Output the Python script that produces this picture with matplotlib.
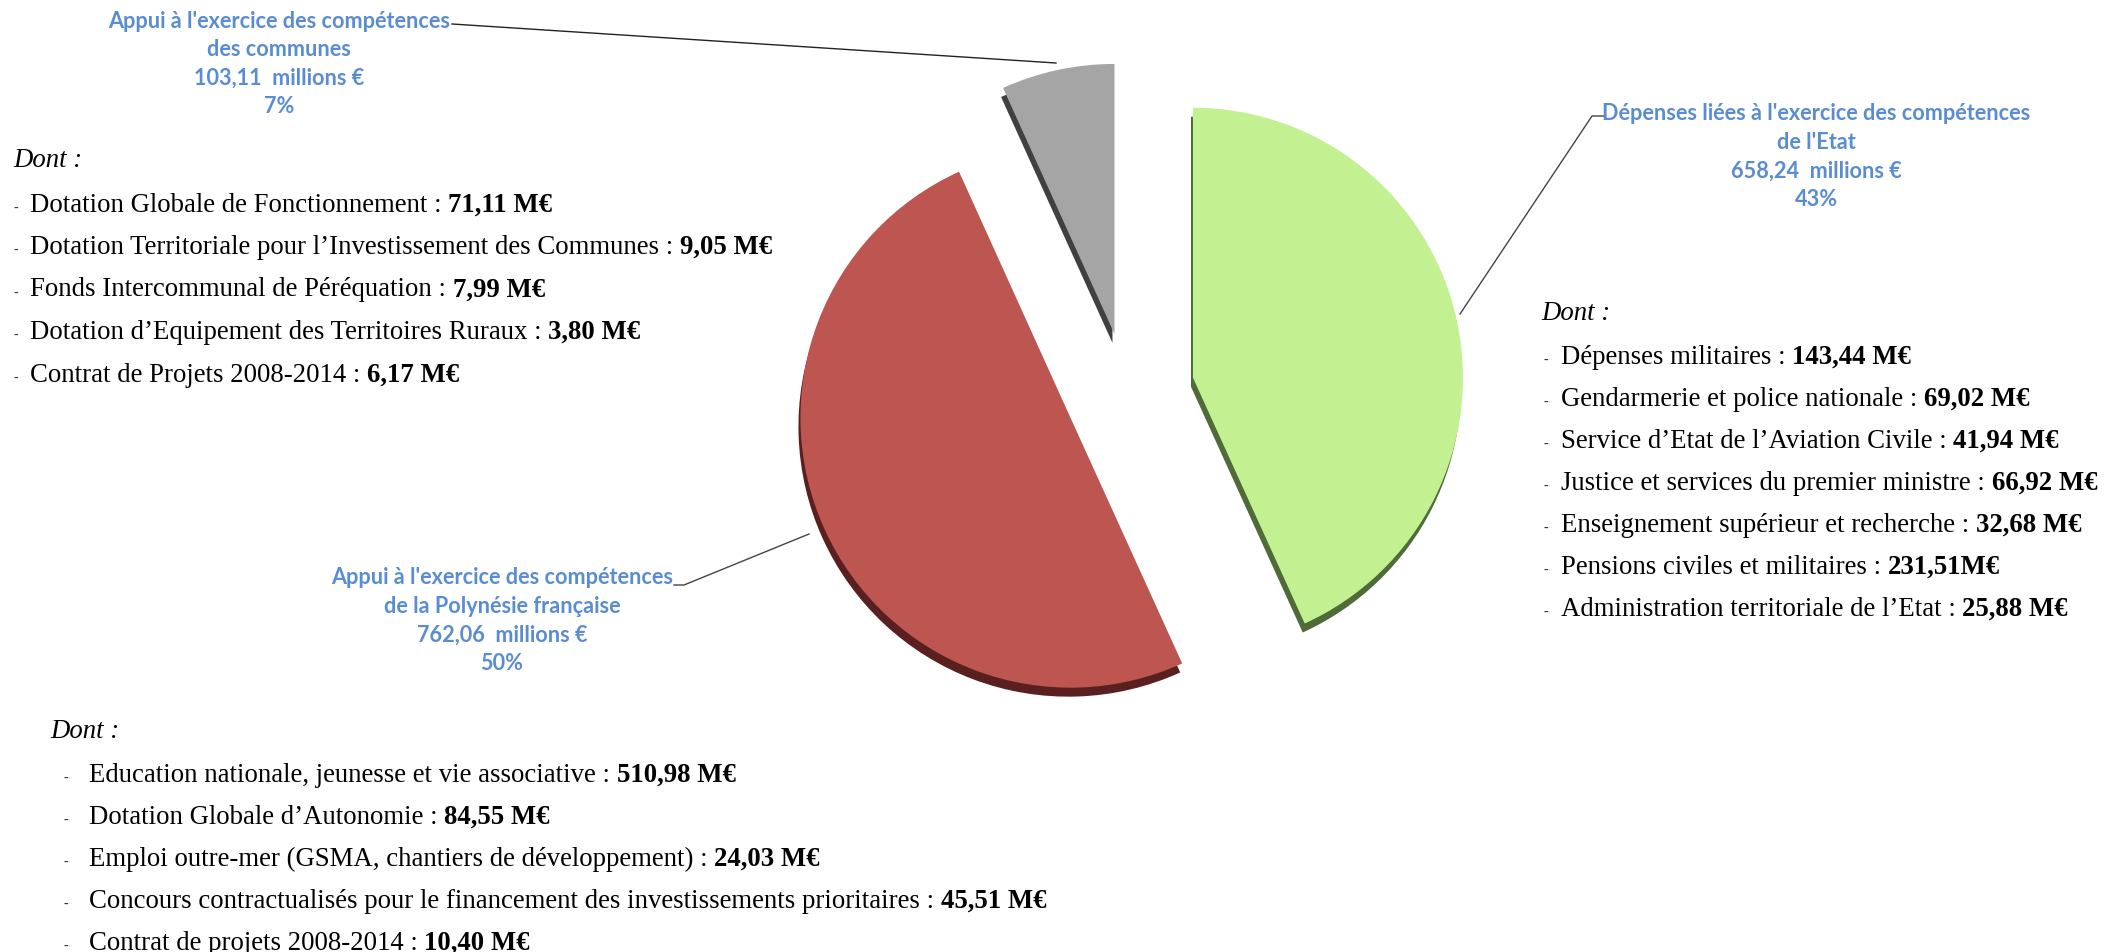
import numpy as np
import matplotlib.pyplot as plt

W, H = 2114, 952

# slices (same order as drawn, counter-clockwise from 12 o'clock)
parts = ["Appui à l'exercice des compétences\ndes communes",
         "Appui à l'exercice des compétences\nde la Polynésie française",
         "Dépenses liées à l'exercice des compétences\nde l'Etat"]
amounts = [103.11, 762.06, 658.24]
top_colors = ['#a5a5a5', '#bd5551', '#c3f192']
side_colors = ['#404040', '#5a1f1f', '#4f6b3a']
explode = [0.22, 0.23, 0.25]

communes_lib = ["Dotation Globale de Fonctionnement",
                "Dotation Territoriale pour l\u2019Investissement des Communes",
                "Fonds Intercommunal de Péréquation",
                "Dotation d\u2019Equipement des Territoires Ruraux",
                "Contrat de Projets 2008-2014"]
communes_val = ["71,11 M€", "9,05 M€", "7,99 M€", "3,80 M€", "6,17 M€"]

etat_lib = ["Dépenses militaires",
            "Gendarmerie et police nationale",
            "Service d\u2019Etat de l\u2019Aviation Civile",
            "Justice et services du premier ministre",
            "Enseignement supérieur et recherche",
            "Pensions civiles et militaires",
            "Administration territoriale de l\u2019Etat"]
etat_val = ["143,44 M€", "69,02 M€", "41,94 M€", "66,92 M€", "32,68 M€", "231,51M€", "25,88 M€"]

pf_lib = ["Education nationale, jeunesse et vie associative",
          "Dotation Globale d\u2019Autonomie",
          "Emploi outre-mer (GSMA, chantiers de développement)",
          "Concours contractualisés pour le financement des investissements prioritaires",
          "Contrat de projets 2008-2014"]
pf_val = ["510,98 M€", "84,55 M€", "24,03 M€", "45,51 M€", "10,40 M€"]

fig = plt.figure(figsize=(W / 100, H / 100), dpi=100)
ax = fig.add_axes([0, 0, 1, 1])

# y axis is inverted below, so the pie goes clockwise in data = counter-clockwise on screen
cx, cy, r = 1127, 392, 270
expl = [e * r for e in explode]  # pie() offsets in data units
# dark copy underneath gives the 3D thickness
ax.pie(amounts, explode=expl, colors=side_colors, startangle=-90, counterclock=False,
       center=(cx - 2, cy + 9), radius=r, wedgeprops=dict(linewidth=0))
ax.pie(amounts, explode=expl, colors=top_colors, startangle=-90, counterclock=False,
       center=(cx, cy), radius=r, wedgeprops=dict(linewidth=0))
ax.set_xlim(0, W)
ax.set_ylim(H, 0)
ax.set_aspect('auto')
ax.axis('off')

total = sum(amounts)
blue = '#5a8cd2'
lab_font = dict(family='Lato', weight='bold', size=15.6, color=blue)


def slice_label(i, x, y):
    lines = parts[i].split('\n')
    lines.append(f"{amounts[i]:.2f}".replace('.', ',') + "  millions €")
    lines.append(f"{round(amounts[i] / total * 100)}%")
    for k, s in enumerate(lines):
        ax.text(x, y + k * 28.5, s, ha='center', va='center', **lab_font)


slice_label(0, 279, 21)
slice_label(1, 502, 578)
slice_label(2, 1816, 114)

ax.plot([452, 1056], [24, 63], color='#222222', lw=1)
ax.plot([1604, 1592, 1460], [116, 116, 314], color='#444444', lw=1)
ax.plot([674, 684, 809], [585, 585, 534], color='#444444', lw=1)

serif = 'Liberation Serif'
fs = 19.3
renderer = fig.canvas.get_renderer()


def detail_block(x, y0, step, dash_x, text_x, libs, vals):
    ax.text(x, y0 + 6, "Dont :", family=serif, style='italic', size=fs, va='baseline')
    for k in range(len(libs)):
        y = y0 + (k + 1) * step + 8
        ax.text(dash_x, y, "-", family=serif, size=10, va='baseline', color='#333333')
        t = ax.text(text_x, y, libs[k] + " : ", family=serif, size=fs, va='baseline')
        bb = t.get_window_extent(renderer=renderer)
        xr = ax.transData.inverted().transform((bb.x1, bb.y0))[0]
        ax.text(xr, y, vals[k], family=serif, size=fs, weight='bold', va='baseline')


detail_block(13, 161, 42.5, 13, 30, communes_lib, communes_val)
detail_block(1541, 314, 42, 1544, 1561, etat_lib, etat_val)
detail_block(50, 732, 42, 63, 89, pf_lib, pf_val)

fig.savefig('out.png', dpi=100)
